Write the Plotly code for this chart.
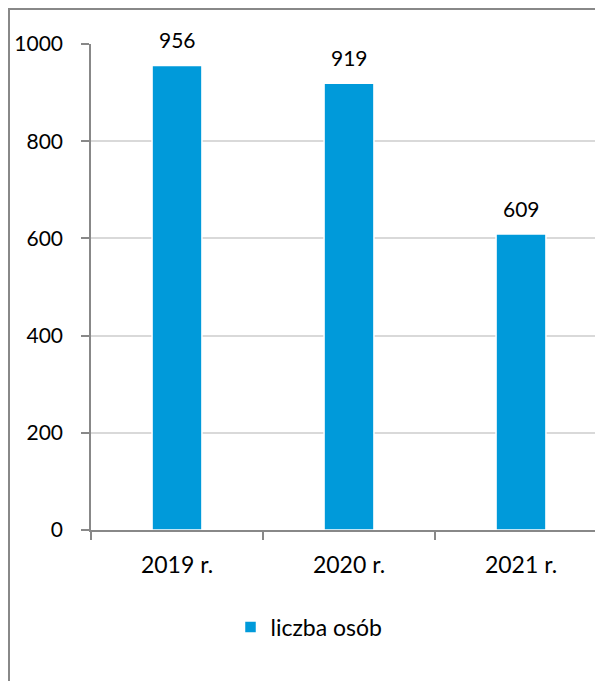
import plotly.graph_objects as go

categories = ["2019 r.", "2020 r.", "2021 r."]
values = [956, 919, 609]
series_name = "liczba osób"
y_ticks = [0, 200, 400, 600, 800, 1000]

W, H = 603, 681
L, R, T, B = 83, 0, 36, 159
pw, ph = W - L - R, H - T - B
cat_px = 172.0

FONT = "Lato"
FS = 21
FS2 = 23
BAR = "#009ADA"

fig = go.Figure()
fig.add_trace(go.Bar(
    x=categories, y=values, name=series_name,
    marker=dict(color=BAR, line=dict(color="#FFFFFF", width=1.5)),
    width=0.29, showlegend=True,
))

for c, v in zip(categories, values):
    fig.add_annotation(x=c, y=v, text=str(v), showarrow=False,
                       yanchor="bottom", yshift=11,
                       font=dict(family=FONT, size=FS, color="#000000"))

fig.add_shape(type="rect", xref="paper", yref="paper",
              x0=(1 - L) / pw, x1=1.2, y0=-0.5, y1=(H - B - 1) / ph,
              line=dict(color="#888888", width=2), fillcolor="rgba(0,0,0,0)")

fig.update_layout(
    width=W, height=H,
    margin=dict(l=L, r=R, t=T, b=B, autoexpand=False),
    paper_bgcolor="white", plot_bgcolor="white",
    font=dict(family=FONT, size=FS, color="#000000"),
    legend=dict(orientation="h", x=(301 - L) / pw, xanchor="center",
                y=(H - B - 619) / ph, yanchor="middle",
                font=dict(family=FONT, size=FS2, color="#000000"),
                itemwidth=30),
    xaxis=dict(
        range=[-0.5, -0.5 + pw / cat_px],
        showgrid=False, showline=True, linecolor="#888888", linewidth=1.5,
        ticks="outside", tickson="boundaries", ticklen=8, tickcolor="#888888",
        tickwidth=1.5, ticklabelstandoff=14,
        tickfont=dict(family=FONT, size=FS2, color="#000000"),
    ),
    yaxis=dict(
        range=[0, 1000], tickvals=y_ticks,
        showgrid=True, gridcolor="#D9D9D9", gridwidth=1.5,
        showline=True, linecolor="#888888", linewidth=1.5,
        ticks="outside", ticklen=8, tickcolor="#888888", tickwidth=1.5,
        ticklabelstandoff=14, zeroline=False,
        tickfont=dict(family=FONT, size=FS, color="#000000"),
    ),
)

fig.write_html("out.html")
